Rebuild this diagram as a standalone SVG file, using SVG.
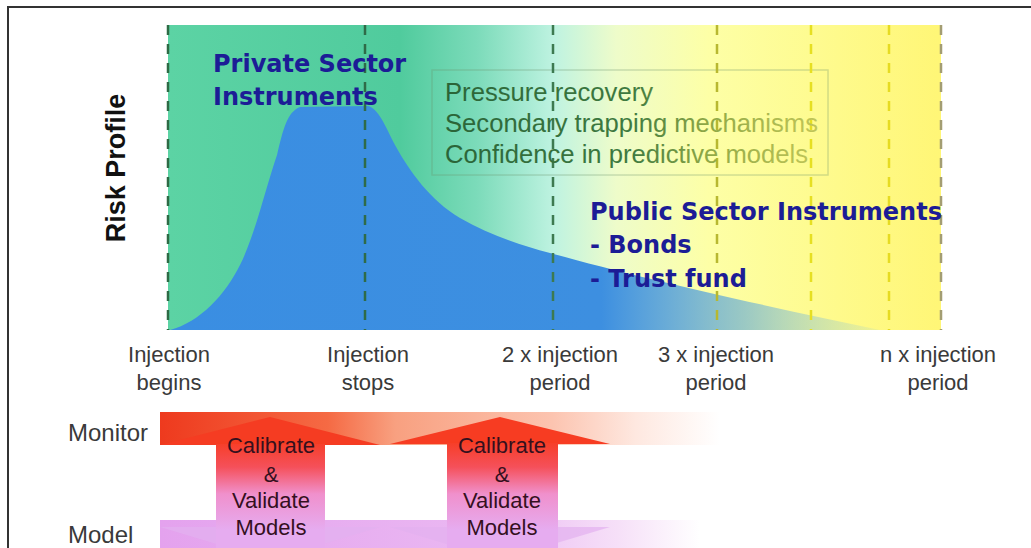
<svg xmlns="http://www.w3.org/2000/svg" width="1031" height="548" viewBox="0 0 1031 548">
<defs>
<style>
.axis{font-family:"Liberation Sans",Arial,sans-serif;font-size:22px;fill:#3a3a3a;text-anchor:middle}
.big{font-family:"DejaVu Sans",Verdana,sans-serif;font-weight:bold;font-size:24px;fill:#1c1c96}
.box{font-family:"Liberation Sans",Arial,sans-serif;font-size:25px;fill:url(#boxText)}
.arrowtxt{font-family:"Liberation Sans",Arial,sans-serif;font-size:22px;fill:#35101e;text-anchor:middle}
.side{font-family:"Liberation Sans",Arial,sans-serif;font-size:24px;fill:#3a3a3a}
.grid{fill:none;stroke-width:2.5;stroke-dasharray:10 9}
</style>
<linearGradient id="bg" gradientUnits="userSpaceOnUse" x1="168" y1="0" x2="941" y2="0">
<stop offset="0" stop-color="#5cd3a4"/>
<stop offset="0.3" stop-color="#50cb9d"/>
<stop offset="0.4" stop-color="#7cdbba"/>
<stop offset="0.5" stop-color="#bff3e1"/>
<stop offset="0.58" stop-color="#eefcca"/>
<stop offset="0.7" stop-color="#fdffa6"/>
<stop offset="1" stop-color="#fff676"/>
</linearGradient>
<linearGradient id="blue" gradientUnits="userSpaceOnUse" x1="168" y1="0" x2="890" y2="0">
<stop offset="0" stop-color="#3a8ee2"/>
<stop offset="0.6" stop-color="#3d8fe0"/>
<stop offset="0.8" stop-color="#5aa6dc" stop-opacity="0.6"/>
<stop offset="1" stop-color="#8cc8e0" stop-opacity="0.1"/>
</linearGradient>
<linearGradient id="boxText" gradientUnits="userSpaceOnUse" x1="445" y1="0" x2="820" y2="0">
<stop offset="0" stop-color="#2a6438"/>
<stop offset="0.5" stop-color="#3f7a40"/>
<stop offset="0.7" stop-color="#8fa846"/>
<stop offset="1" stop-color="#c2c658"/>
</linearGradient>
<linearGradient id="monBand" gradientUnits="userSpaceOnUse" x1="160" y1="0" x2="720" y2="0">
<stop offset="0" stop-color="#ee3a1e"/>
<stop offset="0.3" stop-color="#f56a44"/>
<stop offset="0.42" stop-color="#f8a080"/>
<stop offset="0.7" stop-color="#fcc4b0"/>
<stop offset="0.85" stop-color="#fee8e0"/>
<stop offset="1" stop-color="#ffffff"/>
</linearGradient>
<linearGradient id="modBand" gradientUnits="userSpaceOnUse" x1="160" y1="0" x2="700" y2="0">
<stop offset="0" stop-color="#e4a2ee"/>
<stop offset="0.6" stop-color="#eab8f2"/>
<stop offset="0.85" stop-color="#f6e0f8"/>
<stop offset="1" stop-color="#ffffff"/>
</linearGradient>
<linearGradient id="shaft" gradientUnits="userSpaceOnUse" x1="0" y1="440" x2="0" y2="530">
<stop offset="0" stop-color="#f73c22"/>
<stop offset="0.3" stop-color="#f5505a"/>
<stop offset="0.6" stop-color="#f090cc"/>
<stop offset="1" stop-color="#e6acf0"/>
</linearGradient>
</defs>
<rect width="1031" height="548" fill="#ffffff"/>
<g id="frame" fill="none" stroke="#333" stroke-width="2">
<path d="M8,548 V7 H1031"/>
</g>
<g id="chart">
<rect x="168" y="25" width="773" height="305" fill="url(#bg)"/>
<path d="M170,330 C200,322 225,295 240,265 C255,235 265,190 277,155 C283,130 287,112 300,107 L368,106 C378,108 385,125 395,145 C410,172 430,200 460,218 C490,235 520,245 550,253 C640,278 760,305 880,330 Z" fill="url(#blue)"/>
<rect x="432" y="70" width="396" height="105" fill="none" stroke="#6e946e" stroke-opacity="0.3" stroke-width="1.5"/>
</g>
<g id="gridlines">
<line class="grid" x1="168" y1="25" x2="168" y2="330" stroke="#2d6b45"/>
<line class="grid" x1="365" y1="25" x2="365" y2="330" stroke="#2f6b48"/>
<line class="grid" x1="553" y1="25" x2="553" y2="330" stroke="#3d7a50"/>
<line class="grid" x1="717" y1="25" x2="717" y2="330" stroke="#b8b830"/>
<line class="grid" x1="811" y1="25" x2="811" y2="330" stroke="#e6df22"/>
<line class="grid" x1="889" y1="25" x2="889" y2="330" stroke="#e6db22"/>
<line class="grid" x1="941" y1="25" x2="941" y2="330" stroke="#a39d72"/>
</g>
<g id="risk-label">
<text transform="translate(125,168) rotate(-90)" text-anchor="middle" font-family="Liberation Sans, Arial, sans-serif" font-weight="bold" font-size="27" fill="#111">Risk Profile</text>
</g>
<g id="private-sector">
<text class="big" x="213" y="72">Private Sector</text>
<text class="big" x="213" y="105">Instruments</text>
</g>
<g id="conditions-box">
<text class="box" x="445" y="101" textLength="208" lengthAdjust="spacingAndGlyphs">Pressure recovery</text>
<text class="box" x="445" y="132" textLength="373" lengthAdjust="spacingAndGlyphs">Secondary trapping mechanisms</text>
<text class="box" x="445" y="163" textLength="363" lengthAdjust="spacingAndGlyphs">Confidence in predictive models</text>
</g>
<g id="public-sector">
<text class="big" x="590" y="220" textLength="352" lengthAdjust="spacingAndGlyphs">Public Sector Instruments</text>
<text class="big" x="590" y="253">- Bonds</text>
<text class="big" x="590" y="287">- Trust fund</text>
</g>
<g id="axis-labels">
<text class="axis" x="169" y="362">Injection</text>
<text class="axis" x="169" y="390">begins</text>
<text class="axis" x="368" y="362">Injection</text>
<text class="axis" x="368" y="390">stops</text>
<text class="axis" x="560" y="362">2 x injection</text>
<text class="axis" x="560" y="390">period</text>
<text class="axis" x="716" y="362">3 x injection</text>
<text class="axis" x="716" y="390">period</text>
<text class="axis" x="938" y="362">n x injection</text>
<text class="axis" x="938" y="390">period</text>
</g>
<g id="monitor-band">
<rect x="160" y="412" width="560" height="33" fill="url(#monBand)"/>
<text class="side" x="68" y="441">Monitor</text>
</g>
<g id="model-band">
<rect x="160" y="520" width="540" height="28" fill="url(#modBand)"/>
<polygon points="160,527 380,527 270,560" fill="#e2b0f0" opacity="0.7"/>
<polygon points="390,527 610,527 500,560" fill="#e2b0f0" opacity="0.7"/>
<text class="side" x="68" y="543">Model</text>
</g>
<g id="connectors">
<g id="arrow-1">
<polygon points="160,445 270,417 380,445" fill="#f53c22"/>
<rect x="216" y="444" width="109" height="104" fill="url(#shaft)"/>
<text class="arrowtxt" x="271" y="453">Calibrate</text>
<text class="arrowtxt" x="271" y="482">&amp;</text>
<text class="arrowtxt" x="271" y="508">Validate</text>
<text class="arrowtxt" x="271" y="535">Models</text>
</g>
<g id="arrow-2">
<polygon points="390,444 500,417 610,444" fill="#f73c22"/>
<rect x="447" y="443" width="111" height="105" fill="url(#shaft)"/>
<text class="arrowtxt" x="502" y="453">Calibrate</text>
<text class="arrowtxt" x="502" y="482">&amp;</text>
<text class="arrowtxt" x="502" y="508">Validate</text>
<text class="arrowtxt" x="502" y="535">Models</text>
</g>
</g>
</svg>
